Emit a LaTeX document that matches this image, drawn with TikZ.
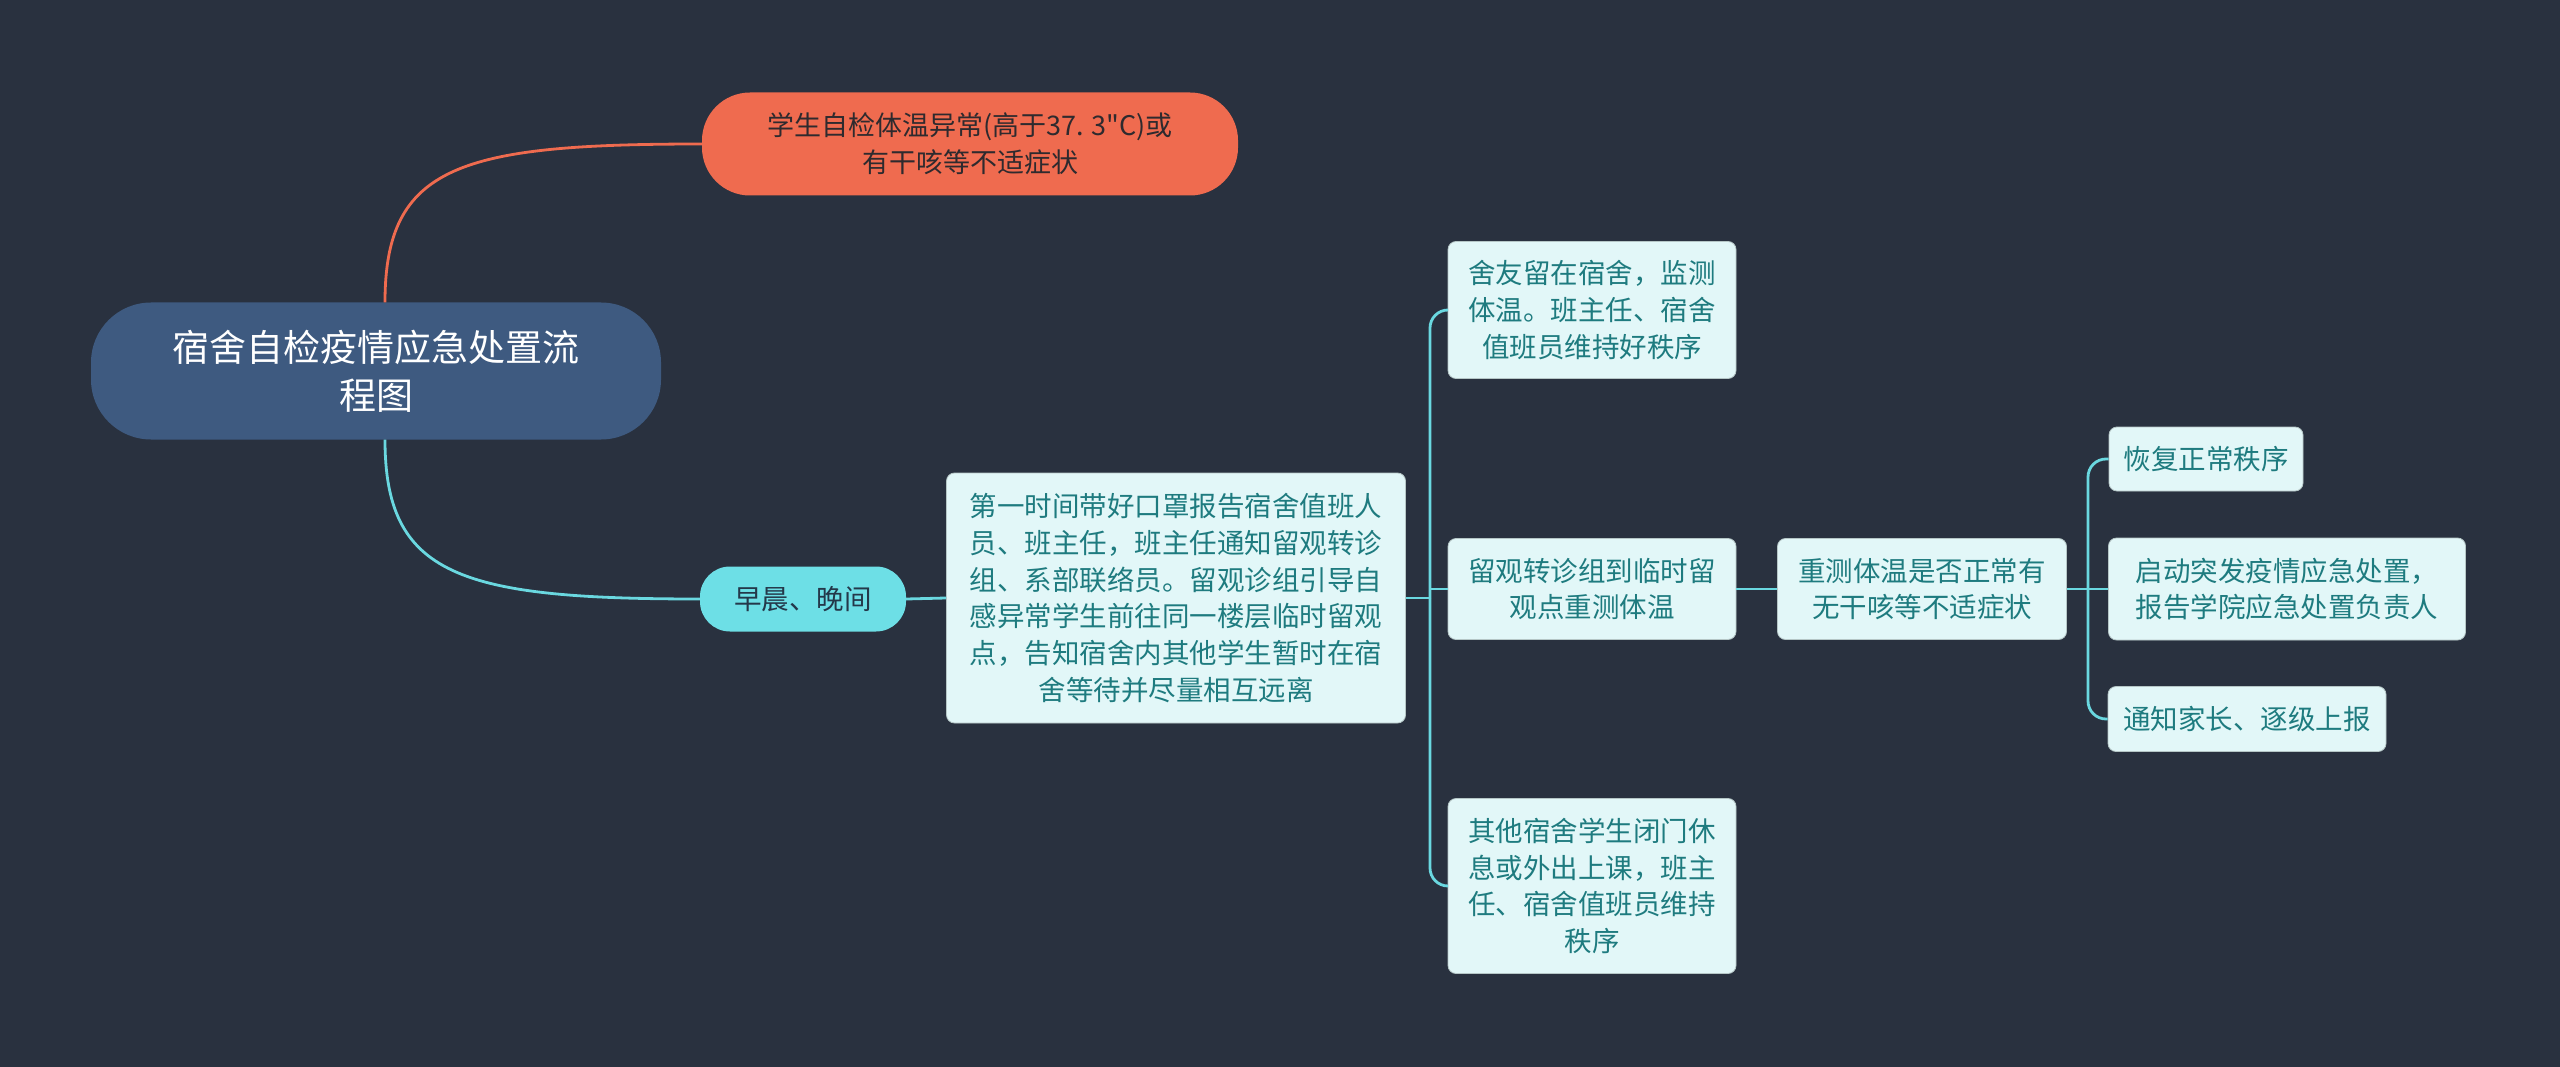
\documentclass[tikz,border=0pt]{standalone}
\usepackage{fontspec}
\newfontfamily\cjk{Noto Sans CJK SC}
\definecolor{bg}{HTML}{29313F}
\definecolor{rootc}{HTML}{3E5A80}
\definecolor{orangec}{HTML}{EF6B4F}
\definecolor{cyanc}{HTML}{6DDFE6}
\definecolor{linec}{HTML}{6AD8E0}
\definecolor{boxc}{HTML}{E2F7F8}
\definecolor{boxtext}{HTML}{1E7B7F}
\definecolor{darktext}{HTML}{2E2A2E}
\definecolor{cyantext}{HTML}{24384A}
\tikzset{
  rootbox/.style={fill=rootc, text=white, rounded corners=60pt, minimum width=570pt, minimum height=137pt, align=center, inner sep=0pt, font=\cjk\fontsize{37}{48}\selectfont},
  orangebox/.style={fill=orangec, text=darktext, rounded corners=48pt, minimum width=536pt, minimum height=103pt, align=center, inner sep=0pt, font=\cjk\fontsize{27}{37}\selectfont},
  cyanbox/.style={fill=cyanc, text=cyantext, rounded corners=30pt, minimum width=206pt, minimum height=65pt, align=center, inner sep=0pt, font=\cjk\fontsize{27.5}{37}\selectfont},
  leaf/.style={fill=boxc, draw=boxc!80!black, line width=0.8pt, text=boxtext, rounded corners=8pt, align=center, inner sep=0pt, font=\cjk\fontsize{27.5}{36.7}\selectfont},
  conn/.style={draw=linec, line width=2.8pt},
  oconn/.style={draw=orangec, line width=2.8pt},
}
\begin{document}
\begin{tikzpicture}[x=1pt,y=-1pt]
\useasboundingbox (0,0) rectangle (2560,1067);
\fill[bg] (0,0) rectangle (2560,1067);

\node[rootbox] (root) at (376,371) {宿舍自检疫情应急处置流\\程图};
\node[orangebox] (orange) at (970,144) {学生自检体温异常(高于37. 3"C)或\\有干咳等不适症状};
\node[cyanbox] (morning) at (803,599) {早晨、晚间};
\node[leaf, minimum width=459pt, minimum height=250pt] (big) at (1176,598) {第一时间带好口罩报告宿舍值班人\\员、班主任，班主任通知留观转诊\\组、系部联络员。留观诊组引导自\\感异常学生前往同一楼层临时留观\\点，告知宿舍内其他学生暂时在宿\\舍等待并尽量相互远离};
\node[leaf, minimum width=288pt, minimum height=137pt] (a) at (1592,310) {舍友留在宿舍，监测\\体温。班主任、宿舍\\值班员维持好秩序};
\node[leaf, minimum width=288pt, minimum height=101pt] (b) at (1592,589) {留观转诊组到临时留\\观点重测体温};
\node[leaf, minimum width=288pt, minimum height=175pt] (c) at (1592,886) {其他宿舍学生闭门休\\息或外出上课，班主\\任、宿舍值班员维持\\秩序};
\node[leaf, minimum width=289pt, minimum height=101pt] (d) at (1922,589) {重测体温是否正常有\\无干咳等不适症状};
\node[leaf, minimum width=194pt, minimum height=64pt] (e) at (2206,459) {恢复正常秩序};
\node[leaf, minimum width=357pt, minimum height=102pt] (f) at (2287,589) {启动突发疫情应急处置，\\报告学院应急处置负责人};
\node[leaf, minimum width=278pt, minimum height=65pt] (g) at (2247,719) {通知家长、逐级上报};

\coordinate (j1) at (1430,598);
\coordinate (j2) at (2088,589);

\draw[oconn] ([xshift=9pt]root.north) .. controls +(0,-137) and +(-242,0) .. (orange.west);
\draw[conn] ([xshift=9pt]root.south) .. controls +(0,136) and +(-240,0) .. (morning.west);
\draw[conn] (morning.east) -- (big.west);
\draw[conn] (big.east) -- (j1);
\draw[conn, rounded corners=18pt] (j1) |- (a.west);
\draw[conn, rounded corners=18pt] (j1) |- (c.west);
\draw[conn] (j1 |- b.west) -- (b.west);
\draw[conn] (b.east) -- (d.west);
\draw[conn] (d.east) -- (j2);
\draw[conn, rounded corners=18pt] (j2) |- (e.west);
\draw[conn, rounded corners=18pt] (j2) |- (g.west);
\draw[conn] (j2) -- (f.west);
\end{tikzpicture}
\end{document}
